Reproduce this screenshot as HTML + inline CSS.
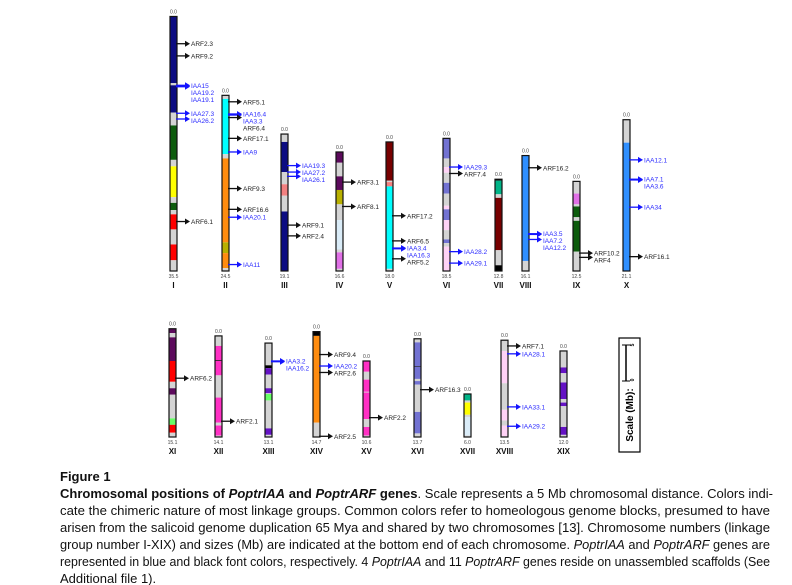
<!DOCTYPE html>
<html><head><meta charset="utf-8"><style>
html,body{margin:0;padding:0;background:#fff;}
svg{display:block;font-family:"Liberation Sans",sans-serif;}
</style></head><body>
<svg id="fig" width="792" height="585" viewBox="0 0 792 585" xmlns="http://www.w3.org/2000/svg">
<g id="chroms"></g>
<g>
<rect x="619" y="338" width="21" height="114" fill="#fff" stroke="#000" stroke-width="1.2"/>
<line x1="626" y1="345" x2="626" y2="381" stroke="#000" stroke-width="1.5"/>
<line x1="622" y1="345" x2="630" y2="345" stroke="#000" stroke-width="1"/>
<line x1="622" y1="381" x2="630" y2="381" stroke="#000" stroke-width="1"/>
<text x="634" y="345" font-size="5" font-weight="bold" transform="rotate(-90 634 345)" text-anchor="middle">5</text>
<text x="634" y="380" font-size="5" font-weight="bold" transform="rotate(-90 634 380)" text-anchor="middle">0</text>
<text x="633" y="415" font-size="10" font-weight="bold" text-anchor="middle" transform="rotate(-90 633 415)">Scale (Mb):</text>
</g>
<g font-size="13" fill="#111">
<text x="60" y="481" font-weight="bold">Figure 1</text>
<text x="60" y="498" textLength="713" lengthAdjust="spacingAndGlyphs"><tspan font-weight="bold">Chromosomal positions of <tspan font-style="italic">PoptrIAA</tspan> and <tspan font-style="italic">PoptrARF</tspan> genes</tspan>. Scale represents a 5 Mb chromosomal distance. Colors indi-</text>
<text x="60" y="515" textLength="710" lengthAdjust="spacingAndGlyphs">cate the chimeric nature of most linkage groups. Common colors refer to homeologous genome blocks, presumed to have</text>
<text x="60" y="532" textLength="710" lengthAdjust="spacingAndGlyphs">arisen from the salicoid genome duplication 65 Mya and shared by two chromosomes [13]. Chromosome numbers (linkage</text>
<text x="60" y="549" textLength="710" lengthAdjust="spacingAndGlyphs">group number I-XIX) and sizes (Mb) are indicated at the bottom end of each chromosome. <tspan font-style="italic">PoptrIAA</tspan> and <tspan font-style="italic">PoptrARF</tspan> genes are</text>
<text x="60" y="566" textLength="710" lengthAdjust="spacingAndGlyphs">represented in blue and black font colors, respectively. 4 <tspan font-style="italic">PoptrIAA</tspan> and 11 <tspan font-style="italic">PoptrARF</tspan> genes reside on unassembled scaffolds (See</text>
<text x="60" y="583">Additional file 1).</text>
</g>
</svg>
<script>
const chrNames = ["I","II","III","IV","V","VI","VII","VIII","IX","X","XI","XII","XIII","XIV","XV","XVI","XVII","XVIII","XIX"];
const chrLengths = [35.5,24.5,19.1,16.6,18.0,18.5,12.8,16.1,12.5,21.1,15.1,14.1,13.1,14.7,10.6,13.7,6.0,13.5,12.0];
const C = {nv:"#0c0c82",gy:"#d4d4d4",gr:"#0d5c0d",ye:"#ffff00",rd:"#ff0000",cy:"#00ffff",or:"#ff8c0f",ol:"#b8b000",sa:"#f28080",dp:"#5c0a5c",lb:"#daecf8",vi:"#e070e6",dr:"#780000",sb:"#7272d2",pk:"#ffd2f6",tl:"#00b487",bl:"#2f8fff",mg:"#ff30c4",lg:"#66ff66",pu:"#6412c4",bk:"#000"};
const chrSegments = [
 [[0,9.3,"nv"],[9.3,9.6,"gy"],[9.6,13.4,"nv"],[13.4,15.2,"gy"],[15.2,20,"gr"],[20,20.9,"gy"],[20.9,25.2,"ye"],[25.2,26,"gy"],[26,27,"gr"],[27,27.6,"gy"],[27.6,29.7,"rd"],[29.7,31.8,"gy"],[31.8,34,"rd"],[34,35.5,"gy"]],
 [[0,0.5,"gy"],[0.5,8.2,"cy"],[8.2,8.8,"gy"],[8.8,20.5,"or"],[20.5,22,"ol"],[22,24.1,"or"],[24.1,24.5,"gy"]],
 [[0,1.1,"gy"],[1.1,5.3,"nv"],[5.3,7,"gy"],[7,8.6,"sa"],[8.6,10.8,"gy"],[10.8,19.1,"nv"]],
 [[0,1.5,"dp"],[1.5,3.4,"gy"],[3.4,5.3,"dp"],[5.3,7.3,"ol"],[7.3,9.5,"gy"],[9.5,13.6,"lb"],[13.6,14,"gy"],[14,16.3,"vi"],[16.3,16.6,"gy"]],
 [[0,5.4,"dr"],[5.4,5.6,"gy"],[5.6,6.2,"sa"],[6.2,17.7,"cy"],[17.7,18,"gy"]],
 [[0,2.8,"sb"],[2.8,4,"gy"],[4,4.8,"pk"],[4.8,6.2,"gy"],[6.2,7.7,"sb"],[7.7,9.4,"gy"],[9.4,9.9,"pk"],[9.9,11.4,"sb"],[11.4,12.8,"pk"],[12.8,14.1,"gy"],[14.1,14.6,"sb"],[14.6,15.1,"gy"],[15.1,18.5,"pk"]],
 [[0,0.2,"bk"],[0.2,2.1,"tl"],[2.1,2.6,"gy"],[2.6,9.9,"dr"],[9.9,12,"gy"],[12,12.8,"bk"]],
 [[0,14.7,"bl"],[14.7,16.1,"gy"]],
 [[0,1.7,"gy"],[1.7,3.2,"vi"],[3.2,3.5,"gy"],[3.5,5,"gr"],[5,5.5,"gy"],[5.5,9.8,"gr"],[9.8,12.5,"gy"]],
 [[0,3.2,"gy"],[3.2,21.1,"bl"]],
 [[0,0.6,"dp"],[0.6,1.2,"gy"],[1.2,4.5,"dp"],[4.5,7.4,"rd"],[7.4,8.3,"gy"],[8.3,9.2,"dp"],[9.2,12.5,"gy"],[12.5,13.4,"lg"],[13.4,14.5,"rd"],[14.5,15.1,"gy"]],
 [[0,1.4,"gy"],[1.4,3.4,"mg"],[3.4,3.5,"bk"],[3.5,5.5,"mg"],[5.5,8.6,"gy"],[8.6,12.1,"mg"],[12.1,12.5,"gy"],[12.5,13.9,"mg"],[13.9,14.1,"gy"]],
 [[0,3.1,"gy"],[3.1,3.5,"bk"],[3.5,4.4,"pu"],[4.4,6.3,"gy"],[6.3,7,"pu"],[7,7.1,"gy"],[7.1,8,"lg"],[8,11.9,"gy"],[11.9,12.8,"pu"],[12.8,13.1,"gy"]],
 [[0,0.6,"bk"],[0.6,12.7,"or"],[12.7,14.7,"gy"]],
 [[0,1.5,"mg"],[1.5,2.6,"gy"],[2.6,4.3,"mg"],[4.3,4.4,"gy"],[4.4,8.1,"mg"],[8.1,9.2,"gy"],[9.2,10.4,"mg"],[10.4,10.6,"gy"]],
 [[0,0.5,"gy"],[0.5,3.8,"sb"],[3.8,3.9,"bk"],[3.9,5.6,"sb"],[5.6,5.9,"gy"],[5.9,6.4,"sb"],[6.4,10.2,"gy"],[10.2,13.2,"sb"],[13.2,13.7,"gy"]],
 [[0,0.9,"tl"],[0.9,1.2,"gy"],[1.2,2.9,"ye"],[2.9,3.2,"gy"],[3.2,5.8,"lb"],[5.8,6,"gy"]],
 [[0,1.5,"gy"],[1.5,6,"pk"],[6,9.7,"gy"],[9.7,11.2,"pk"],[11.2,11.9,"gy"],[11.9,13.4,"pk"],[13.4,13.5,"gy"]],
 [[0,2.3,"gy"],[2.3,3.1,"pu"],[3.1,4.4,"gy"],[4.4,6.7,"pu"],[6.7,7.2,"gy"],[7.2,7.7,"pu"],[7.7,10.6,"gy"],[10.6,11.7,"pu"],[11.7,12,"gy"]]
];
const geneChr = [0,0,0,0,0,0,0,0, 1,1,1,1,1,1,1,1,1,1, 2,2,2,2,2, 3,3, 4,4,4,4,4, 5,5,5,5, 7,7,7,7, 8,8, 9,9,9,9,9, 10, 11, 12,12, 13,13,13,13, 14, 15, 17,17,17,17];
const geneMb = [3.8,5.5,9.6,9.7,9.8,13.5,14.3,28.6, 0.9,2.6,2.75,3.1,6.0,7.9,13.0,15.9,17.0,23.6, 4.4,5.3,5.9,12.7,14.2, 4.2,7.6, 10.3,13.8,14.8,14.9,16.3, 4.0,4.9,15.8,17.4, 1.7,10.9,11.0,11.7, 10.0,10.6, 5.6,8.3,8.4,12.2,19.1, 6.9, 11.9, 2.5,2.6, 3.2,4.8,5.7,14.6, 7.9, 7.1, 0.8,1.9,9.3,12.0];
const geneNames = ["ARF2.3","ARF9.2","IAA15","IAA19.2","IAA19.1","IAA27.3","IAA26.2","ARF6.1","ARF5.1","IAA16.4","IAA3.3","ARF6.4","ARF17.1","IAA9","ARF9.3","ARF16.6","IAA20.1","IAA11","IAA19.3","IAA27.2","IAA26.1","ARF9.1","ARF2.4","ARF3.1","ARF8.1","ARF17.2","ARF6.5","IAA3.4","IAA16.3","ARF5.2","IAA29.3","ARF7.4","IAA28.2","IAA29.1","ARF16.2","IAA3.5","IAA7.2","IAA12.2","ARF10.2","ARF4","IAA12.1","IAA7.1","IAA3.6","IAA34","ARF16.1","ARF6.2","ARF2.1","IAA3.2","IAA16.2","ARF9.4","IAA20.2","ARF2.6","ARF2.5","ARF2.2","ARF16.3","ARF7.1","IAA28.1","IAA33.1","IAA29.2"];
// layout
const chrX = [170,222,281,336,386,443,495,522,573,623,169,215,265,313,363,414,464,501,560];
const rowBottom = [271,437];
const PX = 7.17, W = 7;
const NS = "http://www.w3.org/2000/svg";
const root = document.getElementById("chroms");
function mk(tag, attrs, parent){const e=document.createElementNS(NS,tag);for(const k in attrs)e.setAttribute(k,attrs[k]);(parent||root).appendChild(e);return e;}
function yOf(ci, mb){const bot=rowBottom[ci<10?0:1];return bot-(chrLengths[ci]-mb)*PX;}
chrNames.forEach((nm,ci)=>{
  const g = mk("g",{});
  
  
  const x = chrX[ci], top = yOf(ci,0), bot = yOf(ci,chrLengths[ci]);
  chrSegments[ci].forEach(s=>{
    const r = mk("rect",{x:x,y:yOf(ci,s[0]),width:W,height:Math.max(0.5,(s[1]-s[0])*PX),fill:C[s[2]]},g);
    
    
  });
  mk("rect",{x:x,y:top,width:W,height:bot-top,fill:"none",stroke:"#111","stroke-width":1.2},g);
  mk("text",{x:x+W/2,y:top-3,"font-size":5,"text-anchor":"middle",fill:"#444"},g).textContent="0.0";
  mk("text",{x:x+W/2,y:bot+7,"font-size":5,"text-anchor":"middle",fill:"#444"},g).textContent=chrLengths[ci].toFixed(1);
  const t = mk("text",{x:x+W/2,y:bot+17,"font-size":8,"font-weight":"bold","text-anchor":"middle",fill:"#111"},g);
  t.textContent = nm;
  
  
  // genes
  const idx = [];
  geneChr.forEach((c,i)=>{ if(c===ci) idx.push(i); });
  idx.sort((a,b)=>geneMb[a]-geneMb[b]);
  let lastLy = -1e9;
  idx.forEach(i=>{
    const y = yOf(ci, geneMb[i]);
    const blue = geneNames[i].startsWith("IAA");
    const col = blue ? "#1414ff" : "#111";
    const gm = mk("g",{},g);
    
    
    mk("line",{x1:x+W-1,y1:y,x2:x+W+9,y2:y,stroke:col,"stroke-width":1.3},gm);
    mk("polygon",{points:(x+W+8)+","+(y-3)+" "+(x+W+13)+","+y+" "+(x+W+8)+","+(y+3),fill:col},gm);
    let ly = Math.max(y, lastLy+7);
    lastLy = ly;
    const lt = mk("text",{x:x+W+14,y:ly+2.5,"font-size":6.5,fill:blue?"#2a2aff":"#222"},gm);
    lt.textContent = geneNames[i];
  });
});
</script>
</body></html>
